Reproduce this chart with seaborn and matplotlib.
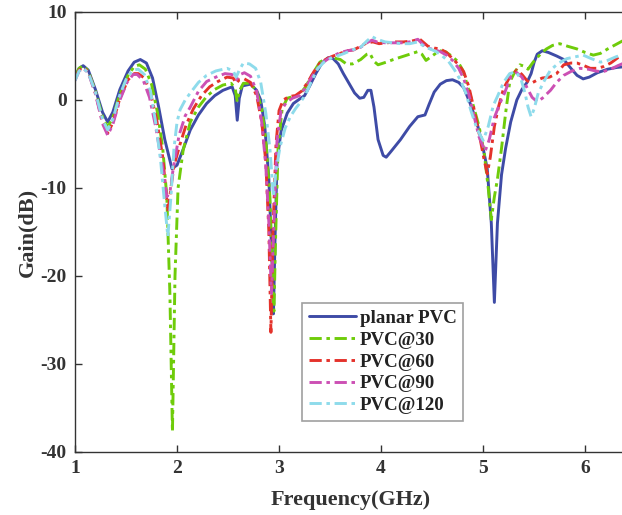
import numpy as np
import pandas as pd
import matplotlib
matplotlib.use("Agg")
import matplotlib.pyplot as plt
import seaborn as sns

series_names = ["planar PVC", "PVC@30", "PVC@60", "PVC@90", "PVC@120"]

planar_x = [1.00, 1.04, 1.08, 1.13, 1.20, 1.27, 1.32, 1.37, 1.44, 1.52, 1.58, 1.64, 1.70, 1.76, 1.82, 1.88,
            1.95, 2.00, 2.06, 2.13, 2.21, 2.29, 2.37, 2.45, 2.54, 2.57, 2.59, 2.61, 2.64, 2.72, 2.78, 2.82,
            2.86, 2.90, 2.93, 2.945, 2.96, 2.98, 3.02, 3.08, 3.14, 3.20, 3.25, 3.30, 3.36, 3.42, 3.48, 3.53,
            3.58, 3.63, 3.69, 3.74, 3.79, 3.83, 3.87, 3.90, 3.93, 3.97, 4.02, 4.05, 4.10, 4.19, 4.28, 4.36,
            4.43, 4.47, 4.52, 4.58, 4.64, 4.70, 4.76, 4.81, 4.87, 4.94, 5.00, 5.04, 5.08, 5.11, 5.14, 5.18,
            5.22, 5.27, 5.33, 5.38, 5.43, 5.47, 5.50, 5.53, 5.58, 5.64, 5.72, 5.79, 5.86, 5.92, 5.98, 6.04,
            6.12, 6.22, 6.31, 6.40]
planar_y = [2.6, 3.6, 3.9, 3.4, 1.2, -1.4, -2.5, -1.4, 1.2, 3.3, 4.3, 4.6, 4.2, 2.5, -0.8, -4.5,
            -7.8, -7.4, -5.6, -3.4, -1.7, -0.4, 0.5, 1.1, 1.5, 0.5, -2.3, 0.2, 1.6, 1.8, 1.1, 0.0,
            -3.0, -9.0, -18.0, -24.3, -16.0, -7.0, -3.5, -1.5, -0.4, 0.1, 0.5, 1.6, 3.0, 4.2, 4.8, 4.7,
            4.1, 3.0, 1.8, 0.8, 0.2, 0.3, 1.1, 1.1, -0.8, -4.5, -6.3, -6.5, -5.8, -4.5, -3.0, -1.9,
            -1.7, -0.5, 0.9, 1.8, 2.2, 2.3, 2.0, 1.4, -0.3, -2.6, -5.5, -7.8, -14.0, -23.0, -14.0, -8.5,
            -5.5, -2.5, 0.0, 1.2, 2.0, 3.0, 4.3, 5.2, 5.6, 5.4, 5.0, 4.6, 3.6, 2.8, 2.4, 2.6,
            3.1, 3.5, 3.7, 3.8]

pvc30_x = [1.00, 1.04, 1.08, 1.13, 1.20, 1.27, 1.32, 1.37, 1.44, 1.52, 1.58, 1.63, 1.69, 1.75, 1.81, 1.86,
           1.90, 1.93, 1.955, 1.98, 2.01, 2.06, 2.13, 2.21, 2.29, 2.37, 2.45, 2.53, 2.57, 2.59, 2.61, 2.65,
           2.72, 2.78, 2.83, 2.87, 2.91, 2.935, 2.95, 2.965, 2.99, 3.03, 3.08, 3.14, 3.20, 3.26, 3.33, 3.40,
           3.46, 3.53, 3.60, 3.66, 3.72, 3.80, 3.86, 3.89, 3.93, 3.97, 4.05, 4.12, 4.20, 4.28, 4.36, 4.40,
           4.44, 4.50, 4.57, 4.63, 4.69, 4.75, 4.80, 4.85, 4.90, 4.96, 5.01, 5.05, 5.08, 5.11, 5.14, 5.18,
           5.22, 5.26, 5.31, 5.36, 5.41, 5.44, 5.49, 5.56, 5.62, 5.68, 5.75, 5.83, 5.92, 6.00, 6.08, 6.15,
           6.22, 6.30, 6.38, 6.40]
pvc30_y = [2.7, 3.6, 3.9, 3.3, 1.0, -1.9, -3.1, -2.0, 0.7, 2.8, 3.8, 4.0, 3.5, 1.8, -1.5, -5.5,
           -11.0, -22.0, -37.7, -20.0, -10.0, -5.7, -2.5, -0.8, 0.4, 1.2, 1.7, 1.9, 1.3, -0.2, 1.0, 1.9,
           1.9, 1.0, -1.0, -4.5, -11.0, -20.0, -24.0, -16.0, -5.5, -1.0, 0.2, 0.4, 0.6, 1.5, 3.0, 4.3,
           4.7, 4.8, 4.6, 4.1, 4.1, 4.6, 5.2, 5.3, 4.4, 4.0, 4.3, 4.6, 4.9, 5.2, 5.5, 5.2,
           4.5, 5.0, 5.6, 5.5, 5.0, 4.4, 3.4, 1.5, -0.5, -3.0, -6.0, -10.0, -13.6, -11.0, -9.0, -5.5,
           -1.5, 2.0, 3.2, 4.0, 3.8, 3.5, 4.3, 5.2, 5.8, 6.2, 6.4, 6.1, 5.8, 5.4, 5.1, 5.3,
           5.8, 6.3, 6.8, 6.9]

pvc60_x = [1.00, 1.04, 1.08, 1.13, 1.20, 1.27, 1.32, 1.37, 1.44, 1.52, 1.58, 1.62, 1.68, 1.74, 1.80, 1.86,
           1.91, 1.94, 1.97, 2.03, 2.09, 2.16, 2.24, 2.32, 2.40, 2.49, 2.55, 2.58, 2.61, 2.66, 2.72, 2.78,
           2.83, 2.87, 2.90, 2.92, 2.94, 2.97, 3.00, 3.04, 3.10, 3.16, 3.22, 3.28, 3.34, 3.40, 3.47, 3.53,
           3.60, 3.67, 3.73, 3.80, 3.86, 3.92, 3.98, 4.06, 4.14, 4.22, 4.30, 4.38, 4.42, 4.46, 4.52, 4.58,
           4.64, 4.70, 4.76, 4.81, 4.86, 4.91, 4.96, 5.01, 5.04, 5.07, 5.11, 5.15, 5.20, 5.26, 5.33, 5.38,
           5.43, 5.47, 5.52, 5.58, 5.65, 5.72, 5.79, 5.86, 5.92, 5.99, 6.05, 6.12, 6.18, 6.25, 6.32, 6.40]
pvc60_y = [2.4, 3.4, 3.7, 3.2, 0.8, -2.5, -3.8, -2.6, 0.2, 2.3, 3.0, 3.0, 2.5, 0.8, -2.2, -6.5,
           -12.7, -10.0, -7.5, -5.0, -2.8, -1.0, 0.5, 1.5, 2.1, 2.6, 2.5, 1.9, 2.3, 2.4, 2.0, 0.5,
           -2.5, -7.0, -15.0, -26.4, -15.0, -5.0, -1.2, 0.0, 0.4, 0.5, 1.0, 2.0, 3.2, 4.2, 4.7, 5.0,
           5.3, 5.6, 5.7, 6.1, 6.5, 6.6, 6.4, 6.5, 6.6, 6.6, 6.7, 6.9, 6.5, 6.1, 5.9, 5.8,
           5.4, 4.7, 4.0, 3.2, 1.5, -1.0, -3.8, -6.8, -8.4, -6.5, -3.0, -0.8, 1.3, 2.6, 3.4, 2.9,
           2.2, 1.9, 2.2, 2.5, 2.6, 3.0, 4.0, 4.2, 4.2, 3.9, 3.6, 3.6, 3.8, 4.2, 4.8, 5.3]

pvc90_x = [1.00, 1.04, 1.08, 1.13, 1.20, 1.27, 1.32, 1.37, 1.44, 1.51, 1.57, 1.61, 1.67, 1.73, 1.79, 1.85,
           1.90, 1.93, 1.96, 2.02, 2.08, 2.13, 2.21, 2.29, 2.38, 2.47, 2.54, 2.58, 2.62, 2.66, 2.72, 2.78,
           2.83, 2.87, 2.90, 2.925, 2.95, 2.98, 3.02, 3.07, 3.13, 3.20, 3.26, 3.33, 3.40, 3.47, 3.53, 3.60,
           3.67, 3.73, 3.80, 3.86, 3.91, 3.96, 4.04, 4.12, 4.20, 4.28, 4.36, 4.41, 4.46, 4.52, 4.58, 4.64,
           4.70, 4.76, 4.81, 4.86, 4.91, 4.96, 5.02, 5.06, 5.11, 5.16, 5.21, 5.27, 5.33, 5.38, 5.43, 5.48,
           5.53, 5.58, 5.66, 5.72, 5.79, 5.87, 5.95, 6.03, 6.10, 6.17, 6.25, 6.32, 6.40]
pvc90_y = [2.2, 3.3, 3.6, 3.1, 0.7, -2.7, -4.0, -2.8, 0.0, 2.0, 2.9, 2.9, 2.2, 0.3, -3.0, -7.0,
           -11.0, -10.5, -8.0, -4.0, -1.8, -0.8, 1.0, 2.1, 2.6, 3.0, 2.9, 2.3, 2.9, 3.1, 2.7, 1.0,
           -2.5, -7.5, -14.0, -22.0, -14.0, -4.5, -1.2, -0.3, 0.2, 0.5, 1.4, 2.8, 4.0, 4.6, 5.0, 5.4,
           5.6, 5.7, 6.0, 6.5, 6.8, 6.6, 6.5, 6.5, 6.5, 6.6, 6.9, 6.3, 5.9, 5.7, 5.5, 5.1,
           4.5, 3.6, 2.4, 0.6, -1.8, -4.2, -5.8, -4.5, -2.0, -0.5, 0.8, 2.6, 3.1, 2.6, 1.4, 0.3,
           -0.2, 0.2, 1.1, 2.0, 2.8, 3.3, 3.6, 3.5, 3.3, 3.2, 3.5, 3.9, 4.3]

pvc120_x = [1.00, 1.04, 1.08, 1.13, 1.20, 1.27, 1.32, 1.37, 1.44, 1.51, 1.57, 1.62, 1.68, 1.74, 1.79, 1.84,
            1.88, 1.91, 1.94, 1.97, 2.00, 2.03, 2.08, 2.13, 2.21, 2.29, 2.38, 2.49, 2.55, 2.58, 2.61, 2.65,
            2.71, 2.77, 2.82, 2.87, 2.91, 2.945, 2.97, 3.01, 3.06, 3.11, 3.16, 3.20, 3.26, 3.32, 3.38, 3.44,
            3.50, 3.57, 3.64, 3.72, 3.80, 3.86, 3.91, 3.96, 4.04, 4.12, 4.20, 4.28, 4.36, 4.42, 4.48, 4.54,
            4.60, 4.66, 4.72, 4.78, 4.83, 4.88, 4.94, 5.00, 5.05, 5.10, 5.14, 5.20, 5.26, 5.32, 5.37, 5.41,
            5.44, 5.47, 5.50, 5.54, 5.60, 5.66, 5.74, 5.82, 5.90, 5.98, 6.06, 6.15, 6.22, 6.30, 6.40]
pvc120_y = [2.2, 3.3, 3.6, 3.1, 0.9, -2.2, -3.4, -2.2, 0.6, 2.6, 3.4, 3.5, 2.9, 1.0, -2.5, -7.0,
            -12.0, -15.5, -11.0, -5.5, -2.5, -1.1, 0.0, 0.8, 2.0, 2.8, 3.3, 3.6, 3.3, 2.6, 3.4, 4.2,
            4.1, 3.6, 2.0, -1.5, -5.5, -11.0, -8.0, -5.3, -3.2, -1.9, -1.0, -0.4, 0.6, 2.2, 3.6, 4.3,
            4.7, 5.0, 5.3, 5.7, 6.0, 6.7, 7.2, 6.9, 6.6, 6.5, 6.4, 6.4, 6.6, 6.1, 5.8, 5.5,
            5.0, 4.4, 3.4, 2.2, 0.8, -1.2, -3.3, -4.6, -3.0, -0.6, 0.4, 2.0, 3.0, 3.2, 2.4, 0.8,
            -0.8, -1.9, -1.0, 0.8, 2.2, 3.4, 4.2, 4.7, 4.9, 5.1, 4.7, 4.3, 4.5, 4.9, 5.3]

x_ticks = [1, 2, 3, 4, 5, 6]
y_ticks = [-40, -30, -20, -10, 0, 10]

xs = [planar_x, pvc30_x, pvc60_x, pvc90_x, pvc120_x]
ys = [planar_y, pvc30_y, pvc60_y, pvc90_y, pvc120_y]
frames = []
for name, xv, yv in zip(series_names, xs, ys):
    frames.append(pd.DataFrame({"Frequency": xv, "Gain": yv, "series": name}))
df = pd.concat(frames, ignore_index=True)

sns.set_style("ticks")
plt.rcParams["font.family"] = ["Liberation Serif", "DejaVu Serif"]
plt.rcParams["font.weight"] = "bold"
plt.rcParams["axes.unicode_minus"] = False
plt.rcParams["lines.solid_joinstyle"] = "round"
plt.rcParams["lines.dash_joinstyle"] = "round"

palette = {"planar PVC": "#3E4BA6", "PVC@30": "#6FCC0A", "PVC@60": "#E4322B",
           "PVC@90": "#CC50B4", "PVC@120": "#8EDBEB"}
dd = (4.2, 1.6, 1.2, 1.6)
dashes = {"planar PVC": "", "PVC@30": dd, "PVC@60": dd, "PVC@90": dd, "PVC@120": dd}

fig = plt.figure(figsize=(6.22, 5.15), dpi=100)
ax = fig.add_axes([75 / 622, 63 / 515, 551 / 622, 440 / 515])

sns.lineplot(data=df, x="Frequency", y="Gain", hue="series", style="series",
             hue_order=series_names, style_order=series_names,
             palette=palette, dashes=dashes, estimator=None, sort=False,
             linewidth=2.1, ax=ax)

ax.set_xlim(1, 6.4)
ax.set_ylim(-40, 10)
ax.set_xticks(x_ticks)
ax.set_yticks(y_ticks)
ax.tick_params(direction="in", top=True, right=False, length=5, width=1,
               labelsize=14, colors="#333333", pad=6)
for lab in ax.get_xticklabels() + ax.get_yticklabels():
    lab.set_fontweight("bold")
for s in ["left", "bottom", "top", "right"]:
    ax.spines[s].set_color("#333333")
    ax.spines[s].set_linewidth(1.0)

ax.set_xlabel("Frequency(GHz)", fontsize=16, fontweight="bold", color="#333333", labelpad=9)
ax.set_ylabel("Gain(dB)", fontsize=16, fontweight="bold", color="#333333", labelpad=2)

leg = ax.legend(loc="upper left", bbox_to_anchor=((302 - 75) / 551, (452 - 303) / 440),
                frameon=True, fancybox=False, edgecolor="#888888", fontsize=13.6,
                handlelength=2.5, handletextpad=0.2, labelspacing=0.24, borderpad=0.36,
                borderaxespad=0)
leg.get_frame().set_linewidth(1.2)
for t in leg.get_texts():
    t.set_fontweight("bold")
    t.set_color("#222222")

fig.savefig("out.png", dpi=100)
